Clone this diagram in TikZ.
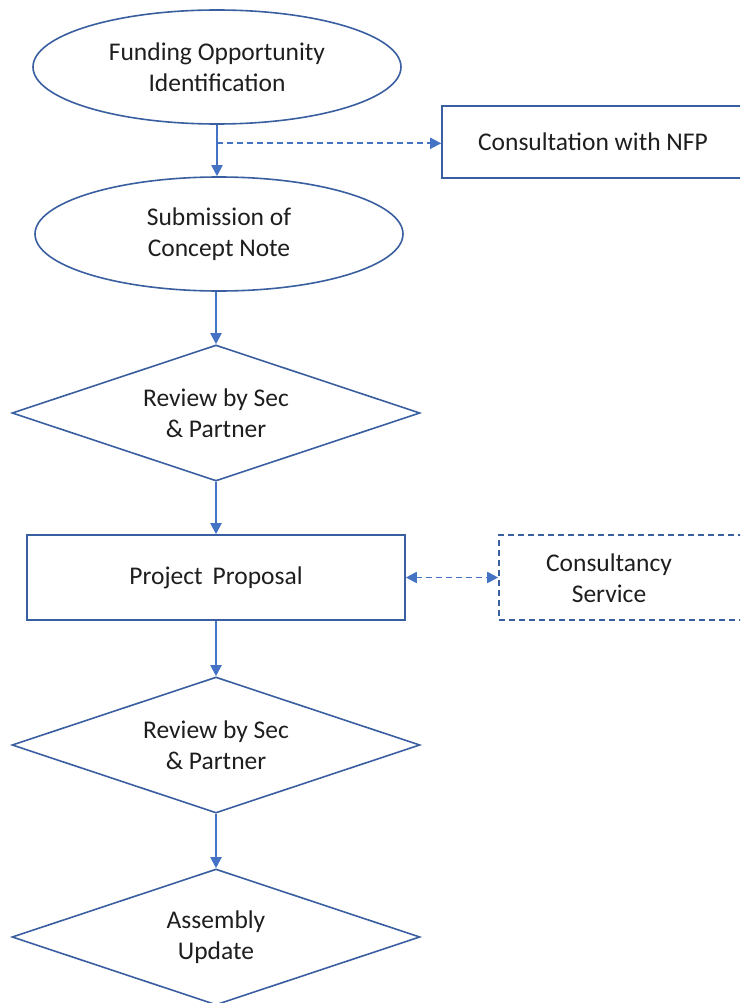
\documentclass[tikz,border=0pt]{standalone}
\usepackage{fontspec}
\setmainfont{Carlito}
\usetikzlibrary{shapes.geometric,arrows.meta,calc}
\definecolor{outl}{HTML}{3A5FA0}
\definecolor{arr}{HTML}{4472C4}
\definecolor{txt}{HTML}{1E1E1E}
\tikzset{
  every node/.style={text=txt,font=\fontsize{25.5}{31.5}\selectfont,align=center,inner sep=0pt},
  oval/.style={ellipse,draw=outl,line width=1.6pt,minimum width=368pt,minimum height=114pt},
  dia/.style={diamond,shape aspect=3,draw=outl,line width=1.6pt,minimum width=408pt,minimum height=136pt},
  box/.style={rectangle,draw=outl,line width=1.6pt},
  dbox/.style={rectangle,draw=outl,line width=1.6pt,dash pattern=on 6pt off 4pt},
  flow/.style={draw=arr,line width=2pt,-{Triangle[length=11pt,width=11pt]}},
  dflow/.style={draw=arr,line width=1.8pt,dash pattern=on 6pt off 4pt,-{Triangle[length=11pt,width=11pt]}},
  ddflow/.style={draw=arr,line width=1.8pt,dash pattern=on 6pt off 4pt,{Triangle[length=11pt,width=11pt]}-{Triangle[length=11pt,width=11pt]}}
}
\begin{document}
\begin{tikzpicture}[x=1pt,y=1pt]
\useasboundingbox (0,0) rectangle (740,-1003);
\clip (0,0) rectangle (740,-1003);
\node[oval] (fund) at (217,-67) {Funding Opportunity\\Identification};
\node[oval] (sub) at (219,-234) {Submission of\\Concept Note};
\node[box,minimum width=310pt,minimum height=72pt] (nfp) at (597,-142) {};
\node (nfpt) at (593,-142) {Consultation with NFP};
\node[dia] (rev1) at (216,-413) {Review by Sec\\\& Partner};
\node[box,minimum width=378pt,minimum height=85pt] (prop) at (216,-577.5) {Project\,\ Proposal};
\node[dbox,minimum width=260pt,minimum height=85pt] (cons) at (629,-577.5) {};
\node (const) at (609,-578) {Consultancy\\Service};
\node[dia] (rev2) at (216,-745) {Review by Sec\\\& Partner};
\node[dia] (asm) at (216,-937) {Assembly\\Update};
\draw[flow] (fund.south) -- (fund.south |- sub.north);
\coordinate (br) at ($(fund.south)!0.36!(fund.south |- sub.north)$);
\draw[dflow] (br) -- (br -| nfp.west);
\draw[flow] (sub.south -| rev1.north) -- (rev1.north);
\draw[flow] (rev1.south) -- (prop.north);
\draw[flow] (prop.south) -- (rev2.north);
\draw[flow] (rev2.south) -- (asm.north);
\draw[ddflow] (prop.east) -- (cons.west);
\end{tikzpicture}
\end{document}
